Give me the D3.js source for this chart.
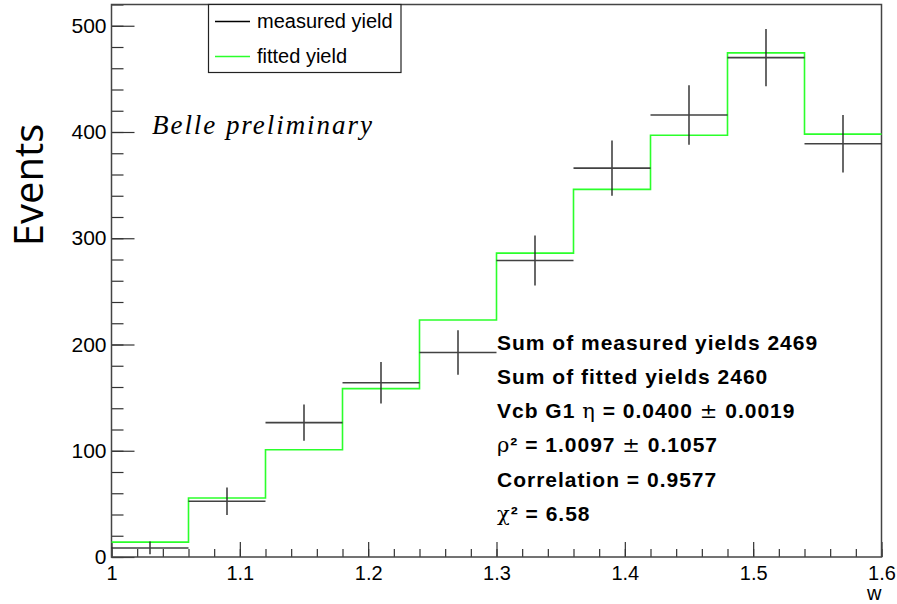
<!DOCTYPE html>
<html>
<head>
<meta charset="utf-8">
<script src="https://cdn.jsdelivr.net/npm/d3@7/dist/d3.min.js"></script>
<style>
  html, body { margin: 0; padding: 0; background: #fff; }
  svg { display: block; }
</style>
</head>
<body>
<svg id="chart" width="897" height="604"></svg>
<script>
// ---- data ----
const binEdges = [1.00, 1.06, 1.12, 1.18, 1.24, 1.30, 1.36, 1.42, 1.48, 1.54, 1.60];
const measured = [8.5, 52.5, 126.5, 164, 192.5, 279, 366, 416, 470, 389];
const measuredErr = [6, 13, 17, 19.5, 21, 23.5, 26, 28, 27, 27];
const fitted = [14, 55.5, 101, 158.5, 223, 286, 346, 397, 474.5, 398];
const xMajorTicks = [1.0, 1.1, 1.2, 1.3, 1.4, 1.5, 1.6];
const xTickLabels = ["1", "1.1", "1.2", "1.3", "1.4", "1.5", "1.6"];
const yMajorTicks = [0, 100, 200, 300, 400, 500];
const legendLabels = ["measured yield", "fitted yield"];
const statsLines = [
  "Sum of measured yields 2469",
  "Sum of fitted yields 2460",
  "Vcb G1 \u03B7 = 0.0400 \u00B1 0.0019",
  "\u03C1\u00B2 = 1.0097 \u00B1 0.1057",
  "Correlation = 0.9577",
  "\u03C7\u00B2 = 6.58"
];
const xTitle = "w";
const yTitle = "Events";
const watermark = "Belle preliminary";

// ---- layout ----
const svg = d3.select("#chart");
const X0 = 111.5, X1 = 881.5, Y0 = 557, Y1 = 4.5;
const x = d3.scaleLinear().domain([1.0, 1.6]).range([X0, X1]);
const y = d3.scaleLinear().domain([0, 520]).range([Y0, Y1]);
const green = "#2bff2b";
const ink = "#222";

// axes
const xMinor = d3.range(1.0, 1.6001, 0.02).map(v => +v.toFixed(2));
const yMinor = d3.range(0, 520.001, 20);

svg.append("g").attr("transform", `translate(0,${Y0})`)
  .call(d3.axisBottom(x).tickValues(xMinor).tickSize(-8).tickFormat(""))
  .call(g => g.select(".domain").remove());
svg.append("g").attr("transform", `translate(0,${Y0})`)
  .call(d3.axisBottom(x).tickValues(xMajorTicks).tickSize(-15).tickPadding(9)
        .tickFormat((d, i) => xTickLabels[i]))
  .call(g => g.select(".domain").remove())
  .call(g => g.selectAll("text").attr("font-family", "Liberation Sans, Arial, sans-serif")
        .attr("font-size", 20).attr("fill", "#000"));

svg.append("g").attr("transform", `translate(${X0},0)`)
  .call(d3.axisLeft(y).tickValues(yMinor).tickSize(-12).tickFormat(""))
  .call(g => g.select(".domain").remove());
svg.append("g").attr("transform", `translate(${X0},0)`)
  .call(d3.axisLeft(y).tickValues(yMajorTicks).tickSize(-23).tickPadding(5))
  .call(g => g.select(".domain").remove())
  .call(g => g.selectAll("text").attr("font-family", "Liberation Sans, Arial, sans-serif")
        .attr("font-size", 21).attr("fill", "#000"));

svg.selectAll(".tick line").attr("stroke", "#333").attr("stroke-width", 1.2);

// frame
svg.append("rect").attr("x", X0).attr("y", Y1).attr("width", X1 - X0).attr("height", Y0 - Y1)
  .attr("fill", "none").attr("stroke", "#444").attr("stroke-width", 1.5);

// fitted histogram (step)
const stepPts = [];
fitted.forEach((v, i) => { stepPts.push([binEdges[i], v]); stepPts.push([binEdges[i + 1], v]); });
svg.append("path")
  .attr("d", d3.line().x(d => x(d[0])).y(d => y(d[1]))(stepPts))
  .attr("fill", "none").attr("stroke", green).attr("stroke-width", 1.6);

// measured with error bars
const meas = svg.append("g").attr("stroke", ink).attr("stroke-width", 1.6).attr("opacity", 0.85);
measured.forEach((v, i) => {
  const xc = (binEdges[i] + binEdges[i + 1]) / 2;
  meas.append("line").attr("x1", x(binEdges[i])).attr("x2", x(binEdges[i + 1]))
    .attr("y1", y(v)).attr("y2", y(v));
  meas.append("line").attr("x1", x(xc)).attr("x2", x(xc))
    .attr("y1", y(v - measuredErr[i])).attr("y2", y(v + measuredErr[i]));
});

// legend
const lg = svg.append("g");
lg.append("rect").attr("x", 208.5).attr("y", Y1).attr("width", 192.5).attr("height", 68)
  .attr("fill", "#fff").attr("stroke", "#222").attr("stroke-width", 1.2);
legendLabels.forEach((t, i) => {
  const ly = 21.5 + i * 35;
  lg.append("line").attr("x1", 215).attr("x2", 250).attr("y1", ly).attr("y2", ly)
    .attr("stroke", i === 0 ? "#000" : green).attr("stroke-width", 1.3);
  lg.append("text").attr("x", 257).attr("y", ly + 6.5).text(t)
    .attr("font-family", "Liberation Sans, Arial, sans-serif").attr("font-size", 20).attr("fill", "#000");
});

// watermark
svg.append("text").attr("x", 152).attr("y", 134).text(watermark)
  .attr("font-family", "Liberation Serif, serif").attr("font-style", "italic")
  .attr("font-size", 27).attr("letter-spacing", 1.95).attr("fill", "#000");

// stats
const st = svg.append("g").attr("font-family", "Liberation Sans, Arial, sans-serif")
  .attr("font-size", 21).attr("font-weight", "bold").attr("letter-spacing", 1.0).attr("fill", "#000");
statsLines.forEach((s, i) => {
  const t = st.append("text").attr("x", 497).attr("y", 349.5 + i * 34.3);
  s.split(/([\u03B7\u03C1\u03C7\u00B1])/).filter(p => p.length).forEach(p => {
    const sym = /[\u03B7\u03C1\u03C7\u00B1]/.test(p);
    t.append("tspan").text(p)
      .attr("font-family", sym ? "DejaVu Serif, serif" : null)
      .attr("font-weight", sym ? "normal" : null);
  });
});

// axis titles
svg.append("text").attr("x", X1).attr("y", 600).attr("text-anchor", "end").text(xTitle)
  .attr("font-family", "Liberation Sans, Arial, sans-serif").attr("font-size", 20);
svg.append("text").attr("transform", "translate(43,185) rotate(-90)").attr("text-anchor", "middle")
  .text(yTitle).attr("font-family", "Open Sans, sans-serif").attr("font-size", 40).attr("fill", "#000");
</script>
</body>
</html>
